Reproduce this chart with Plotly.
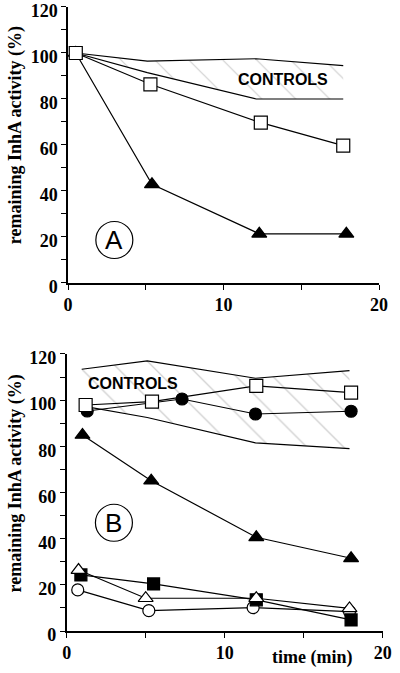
import plotly.graph_objects as go

# ---------------- data: panel A ----------------
a_ctrl_upper_x = [0.5, 5.1, 12.1, 17.7]
a_ctrl_upper_y = [100, 96.5, 97.5, 94.5]
a_ctrl_lower_x = [0.5, 5.1, 12.1, 17.7]
a_ctrl_lower_y = [100, 91.5, 80, 80]
a_sq_open_x = [0.5, 5.3, 12.4, 17.7]
a_sq_open_y = [100, 86.4, 69.7, 59.7]
a_tri_fill_x = [0.5, 5.4, 12.3, 17.9]
a_tri_fill_y = [100, 42.9, 21.4, 21.4]

# ---------------- data: panel B ----------------
b_ctrl_upper_x = [0.95, 5.1, 11.95, 17.9]
b_ctrl_upper_y = [113.4, 117.0, 109.5, 112.8]
b_ctrl_lower_x = [0.95, 5.1, 11.95, 17.9]
b_ctrl_lower_y = [97.5, 92.5, 81.5, 79.0]
b_sq_open_x = [1.2, 5.4, 12.0, 18.0]
b_sq_open_y = [97.9, 99.4, 106.2, 103.3]
b_circ_fill_x = [1.3, 7.3, 11.95, 18.0]
b_circ_fill_y = [95.3, 100.5, 94.0, 95.2]
b_tri_fill_x = [1.0, 5.35, 12.0, 18.0]
b_tri_fill_y = [84.9, 65.1, 40.6, 31.5]
b_sq_fill_x = [0.9, 5.5, 12.0, 18.0]
b_sq_fill_y = [24.3, 20.4, 13.5, 4.8]
b_tri_open_x = [0.75, 5.0, 12.0, 17.9]
b_tri_open_y = [26.4, 14.2, 14.2, 9.8]
b_circ_open_x = [0.7, 5.2, 11.8, 17.9]
b_circ_open_y = [17.8, 8.8, 10.1, 8.4]

x_ticks = [0, 10, 20]
y_ticks = [0, 20, 40, 60, 80, 100, 120]

# label positions (data units)
a_controls_pos = (13.8, 88.3)
b_controls_pos = (4.2, 107.3)
a_letter_pos = (2.98, 18.7)
b_letter_pos = (2.99, 46.9)

SERIF = "Liberation Serif"
SANS = "Liberation Sans"

fig = go.Figure()


def add_controls(ux, uy, lx, ly, xa, ya, size):
    fig.add_trace(go.Scatter(
        x=ux + lx[::-1], y=uy + ly[::-1], xaxis=xa, yaxis=ya,
        mode="none", fill="toself", fillcolor="rgba(0,0,0,0)",
        fillpattern=dict(shape="\\", fgcolor="#a0a0a0", bgcolor="white",
                         size=size, solidity=0.05),
        hoverinfo="skip", showlegend=False))
    for xs, ys in ((ux, uy), (lx, ly)):
        fig.add_trace(go.Scatter(x=xs, y=ys, xaxis=xa, yaxis=ya, mode="lines",
                                 line=dict(color="black", width=1.2),
                                 showlegend=False))


def add_series(xs, ys, xa, ya, symbol, fill, size):
    fig.add_trace(go.Scatter(
        x=xs, y=ys, xaxis=xa, yaxis=ya, mode="lines+markers",
        line=dict(color="black", width=1.2),
        marker=dict(symbol=symbol, size=size, color=fill,
                    line=dict(color="black", width=1.2)),
        showlegend=False))


# Panel A
add_controls(a_ctrl_upper_x, a_ctrl_upper_y, a_ctrl_lower_x, a_ctrl_lower_y, "x", "y", 24)
add_series(a_tri_fill_x, a_tri_fill_y, "x", "y", "triangle-up", "black", 13)
add_series(a_sq_open_x, a_sq_open_y, "x", "y", "square", "white", 13)

# Panel B
add_controls(b_ctrl_upper_x, b_ctrl_upper_y, b_ctrl_lower_x, b_ctrl_lower_y, "x2", "y2", 26)
add_series(b_circ_fill_x, b_circ_fill_y, "x2", "y2", "circle", "black", 12)
add_series(b_sq_open_x, b_sq_open_y, "x2", "y2", "square", "white", 13)
add_series(b_tri_fill_x, b_tri_fill_y, "x2", "y2", "triangle-up", "black", 13)
add_series(b_circ_open_x, b_circ_open_y, "x2", "y2", "circle", "white", 12)
add_series(b_sq_fill_x, b_sq_fill_y, "x2", "y2", "square", "black", 12)
add_series(b_tri_open_x, b_tri_open_y, "x2", "y2", "triangle-up", "white", 13)

tickfont = dict(family=SERIF, size=18, color="black", weight="bold")
common_x = dict(range=[0, 20], tickvals=x_ticks, showline=True, linecolor="black",
                linewidth=1.5, ticks="outside", ticklen=5, tickwidth=1.2,
                tickcolor="black", showgrid=False, zeroline=False, tickfont=tickfont,
                automargin=False, ticklabeloverflow="allow",
                minor=dict(dtick=5, tick0=0, ticks="outside", ticklen=5,
                           tickcolor="black", tickwidth=1.2))
common_y = dict(range=[0, 120], tickvals=y_ticks, showline=True, linecolor="black",
                linewidth=1.5, ticks="outside", ticklen=5, tickwidth=1.2,
                tickcolor="black", showgrid=False, zeroline=False, tickfont=tickfont,
                automargin=False, ticklabeloverflow="allow", ticklabelshift=4,
                minor=dict(dtick=10, tick0=0, ticks="outside", ticklen=5,
                           tickcolor="black", tickwidth=1.2))

fig.update_layout(
    width=400, height=673, margin=dict(l=0, r=0, t=0, b=0, autoexpand=False),
    font=dict(family=SERIF, color="black"),
    paper_bgcolor="white", plot_bgcolor="white", showlegend=False,
    xaxis=dict(domain=[0.17, 0.9475], anchor="y", **common_x),
    yaxis=dict(domain=[0.5795, 0.9896], anchor="x", **common_y),
    xaxis2=dict(domain=[0.1667, 0.9567], anchor="y2", **common_x),
    yaxis2=dict(domain=[0.0624, 0.474], anchor="x2", **common_y),
)

annots = []
for xr, yr, pos in (("x", "y", a_controls_pos), ("x2", "y2", b_controls_pos)):
    annots.append(dict(x=pos[0], y=pos[1], xref=xr, yref=yr, text="CONTROLS",
                       showarrow=False, xanchor="center", yanchor="middle",
                       font=dict(family=SANS, size=16, color="black", weight="bold")))
for xr, yr, pos, letter in (("x", "y", a_letter_pos, "A"), ("x2", "y2", b_letter_pos, "B")):
    annots.append(dict(x=pos[0], y=pos[1], xref=xr, yref=yr, text=letter,
                       showarrow=False, xanchor="center", yanchor="middle",
                       font=dict(family=SANS, size=26, color="black")))
    fig.add_shape(type="circle", xref=xr, yref=yr, xsizemode="pixel", ysizemode="pixel",
                  xanchor=pos[0], yanchor=pos[1], x0=-18.5, x1=18.5, y0=-18.5, y1=18.5,
                  line=dict(color="black", width=1.2))

for ypos in (0.7994, 0.282):
    annots.append(dict(x=0.038, y=ypos, xref="paper", yref="paper",
                       xanchor="center", yanchor="middle",
                       text="remaining InhA activity (%)", textangle=-90,
                       showarrow=False, font=dict(family=SERIF, size=18, color="black",
                                                  weight="bold")))
annots.append(dict(x=0.78, y=0.0223, xref="paper", yref="paper", text="time (min)",
                   xanchor="center", yanchor="middle",
                   showarrow=False, font=dict(family=SERIF, size=18, color="black",
                                              weight="bold")))
fig.update_layout(annotations=annots)

fig.write_html("out.html", config={"displayModeBar": False},
               post_script="document.body.style.margin='0px';document.body.style.overflow='hidden';")
